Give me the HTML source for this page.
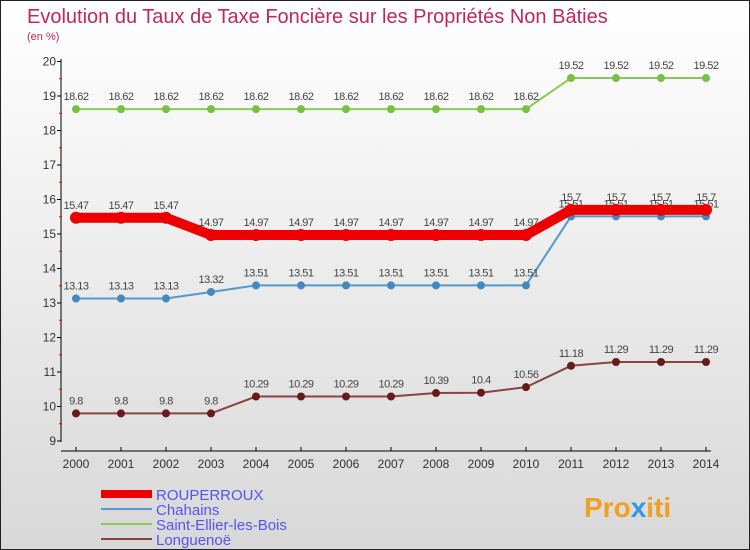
<!DOCTYPE html>
<html><head><meta charset="utf-8"><style>
body{margin:0}
#c{width:748px;height:548px;border:1px solid #222;background:linear-gradient(#ffffff,#d8d8d8);position:relative;overflow:hidden;font-family:"Liberation Sans",sans-serif}
</style></head><body>
<div id="c">
<svg id="s" width="748" height="548" xmlns="http://www.w3.org/2000/svg">
<text x="26" y="22" font-size="20" fill="#c0285a">Evolution du Taux de Taxe Foncière sur les Propriétés Non Bâties</text>
<text x="26" y="39" font-size="11" fill="#c0285a">(en %)</text>
<g id="axes"></g><g id="plot"></g><g id="legend"></g>
<text x="583" y="516" font-size="28" font-weight="bold" fill="#f0a020">Pro<tspan fill="#3399dd">x</tspan>iti</text>
</svg></div>
<script>
const years=[2000,2001,2002,2003,2004,2005,2006,2007,2008,2009,2010,2011,2012,2013,2014];
const yTicks=[9,10,11,12,13,14,15,16,17,18,19,20];
const rouperroux=[15.47,15.47,15.47,14.97,14.97,14.97,14.97,14.97,14.97,14.97,14.97,15.7,15.7,15.7,15.7];
const chahains=[13.13,13.13,13.13,13.32,13.51,13.51,13.51,13.51,13.51,13.51,13.51,15.51,15.51,15.51,15.51];
const saintEllier=[18.62,18.62,18.62,18.62,18.62,18.62,18.62,18.62,18.62,18.62,18.62,19.52,19.52,19.52,19.52];
const longuenoe=[9.8,9.8,9.8,9.8,10.29,10.29,10.29,10.29,10.39,10.4,10.56,11.18,11.29,11.29,11.29];
const NS="http://www.w3.org/2000/svg";
const X=y=>75+(y-2000)*45;
const Y=v=>440-(v-9)*34.5;
function mk(t,a,p){const e=document.createElementNS(NS,t);for(const k in a)e.setAttribute(k,a[k]);p.appendChild(e);return e;}
const ax=document.getElementById('axes');
let l=mk('line',{x1:60,y1:58,x2:60,y2:441,stroke:'#000'},ax);


l=mk('line',{x1:60,y1:450,x2:710,y2:450,stroke:'#000'},ax);


yTicks.forEach(v=>{mk('line',{x1:56,x2:60,y1:Y(v),y2:Y(v),stroke:'#000'},ax);
 if(v<20)mk('line',{x1:58,x2:61,y1:Y(v+0.5),y2:Y(v+0.5),stroke:'#e00'},ax);
 const t=mk('text',{x:55,y:Y(v)+4,'font-size':12,fill:'#333','text-anchor':'end'},ax);t.textContent=v;
 
 });
years.forEach(y=>{mk('line',{x1:X(y),x2:X(y),y1:446,y2:450,stroke:'#000'},ax);
 const t=mk('text',{x:X(y),y:467,'font-size':12,fill:'#333','text-anchor':'middle'},ax);t.textContent=y;
 
 });
const pl=document.getElementById('plot');
const series=[
 {d:saintEllier,c:'#88cc55',pc:'#77c040',w:2,r:4,n:'saint-ellier'},
 {d:chahains,c:'#5599cc',pc:'#4488c0',w:2,r:4,n:'chahains'},
 {d:longuenoe,c:'#884444',pc:'#661a1a',w:2,r:4,n:'longuenoe'},
 {d:rouperroux,c:'#ee0000',pc:'#ee0000',w:10,r:6,n:'rouperroux'}];
series.forEach(s=>{
 const p=mk('polyline',{points:s.d.map((v,i)=>X(years[i])+','+Y(v)).join(' '),fill:'none',stroke:s.c,'stroke-width':s.w},pl);
 
 
 s.d.forEach((v,i)=>{const c=mk('circle',{cx:X(years[i]),cy:Y(v),r:s.r,fill:s.pc},pl);
  
  
  const t=mk('text',{x:X(years[i]),y:Y(v)-9,'font-size':11,fill:'#444','text-anchor':'middle','letter-spacing':'-0.5'},pl);t.textContent=v;
  
  });
});
const lg=document.getElementById('legend');
[['ROUPERROUX','#ee0000',8],['Chahains','#5599cc',2],['Saint-Ellier-les-Bois','#88cc55',2],['Longuenoë','#884444',2]].forEach((e,i)=>{
 const y=493+i*15;
 const g=mk('g',{},lg);
 
 
 mk('line',{x1:100,x2:151,y1:y,y2:y,stroke:e[1],'stroke-width':e[2]},g);
 const t=mk('text',{x:155,y:y+6,'font-size':15,fill:'#5555ee'},g);t.textContent=e[0];
});
</script>
</body></html>
